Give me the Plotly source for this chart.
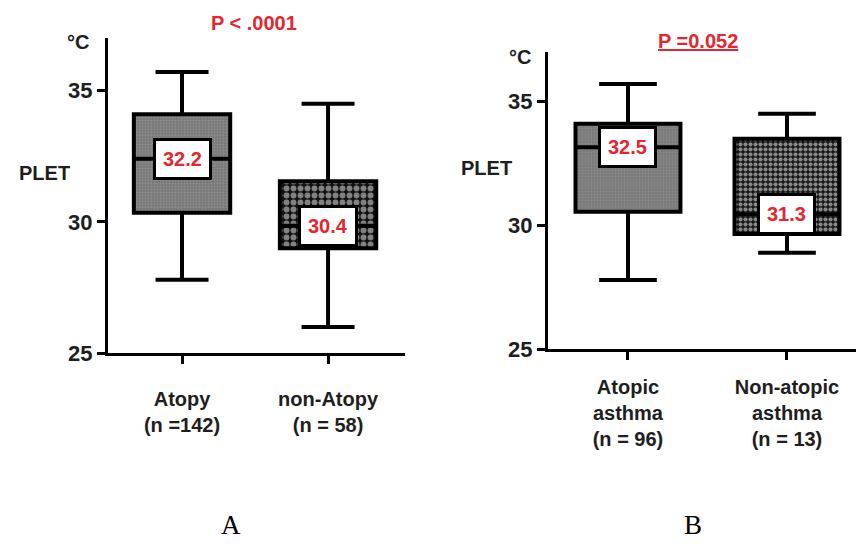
import plotly.graph_objects as go

# ---------------- data ----------------
cats_a = ["Atopy<br>(n =142)", "non-Atopy<br>(n = 58)"]
upper_a = [35.7, 34.5]
q3_a = [34.1, 31.55]
median_a = [32.4, 29.85]
q1_a = [30.35, 29.0]
lower_a = [27.8, 26.0]
labels_a = ["32.2", "30.4"]
p_a = "P < .0001"

cats_b = ["Atopic<br>asthma<br>(n = 96)", "Non-atopic<br>asthma<br>(n = 13)"]
upper_b = [35.7, 34.5]
q3_b = [34.1, 33.5]
median_b = [33.15, 30.45]
q1_b = [30.55, 29.65]
lower_b = [27.8, 28.9]
labels_b = ["32.5", "31.3"]
p_b = "<u>P =0.052</u>"

y_ticks = [25, 30, 35]
panel_letters = ["A", "B"]

# ---------------- styling ----------------
W, H = 856, 545
HE = 533.0  # effective vertical pixel scale observed when rendered
TXT = "#1e1e1e"
RED = "#e3262f"
SANS = "Liberation Sans, Arial, sans-serif"
patterns_a = [
    dict(shape=".", bgcolor="#787878", fgcolor="#a4a4a4", size=3, solidity=0.35),
    dict(shape=".", bgcolor="#111111", fgcolor="#f4f4f4", size=7, solidity=0.55),
]
patterns_b = [
    dict(shape=".", bgcolor="#7a7a7a", fgcolor="#9a9a9a", size=3, solidity=0.3),
    dict(shape=".", bgcolor="#151515", fgcolor="#ffffff", size=5, solidity=0.55),
]

fig = go.Figure()

def fy(py):
    return 1 - py / HE

def add_panel(cats, upper, q3, med, q1, lower, labels, xa, ya, width, patterns):
    for i in range(len(cats)):
        fig.add_trace(go.Bar(
            x=[cats[i]], y=[q3[i] - q1[i]], base=[q1[i]], width=width,
            marker=dict(color="#888888", pattern=patterns[i], line=dict(width=0)),
            xaxis=xa, yaxis=ya, hoverinfo="skip", showlegend=False,
        ))
    fig.add_trace(go.Box(
        x=cats, q1=q1, median=med, q3=q3, lowerfence=lower, upperfence=upper,
        fillcolor="rgba(0,0,0,0)", line=dict(color="black", width=4),
        width=width, whiskerwidth=0.55, boxpoints=False,
        xaxis=xa, yaxis=ya, showlegend=False,
    ))
    for i in range(len(cats)):
        fig.add_annotation(
            x=cats[i], y=med[i], xref=xa, yref=ya, text="<b>%s</b>" % labels[i],
            showarrow=False, font=dict(family=SANS, size=20, color=RED),
            bgcolor="white", bordercolor="black", borderwidth=3, borderpad=7,
        )

add_panel(cats_a, upper_a, q3_a, median_a, q1_a, lower_a, labels_a, "x", "y", 0.66, patterns_a)
add_panel(cats_b, upper_b, q3_b, median_b, q1_b, lower_b, labels_b, "x2", "y2", 0.66, patterns_b)

tickfont = dict(family=SANS, size=22, color=TXT, weight="bold")
catfont = dict(family=SANS, size=20, color=TXT, weight="bold")

def yax(domain, anchor):
    return dict(domain=domain, anchor=anchor, range=[25, 37], tickvals=y_ticks,
                ticks="outside", ticklen=8, tickwidth=3, tickcolor="black",
                showline=True, linewidth=3, linecolor="black", showgrid=False,
                zeroline=False, tickfont=tickfont)

def xax(domain, anchor, rng, standoff):
    return dict(domain=domain, anchor=anchor, range=rng, type="category",
                ticks="outside", ticklen=8, tickwidth=3, tickcolor="black",
                showline=True, linewidth=3, linecolor="black", showgrid=False,
                zeroline=False, tickfont=catfont, ticklabelstandoff=standoff)

fig.update_layout(
    width=W, height=H, margin=dict(l=0, r=0, t=0, b=0),
    paper_bgcolor="white", plot_bgcolor="white", showlegend=False,
    barmode="overlay", boxmode="overlay",
    xaxis=xax([108 / W, 405 / W], "y", [-0.507, 1.527], 18),
    yaxis=yax([fy(354), fy(38)], "x"),
    xaxis2=xax([548 / W, 1.0], "y2", [-0.503, 1.434], 10),
    yaxis2=yax([fy(350), fy(52)], "x2"),
)

def pa(text, px, py, size=19, color=TXT, family=SANS, bold=True):
    fig.add_annotation(x=px / W, y=fy(py), xref="paper", yref="paper",
                       text=("<b>%s</b>" % text) if bold else text, showarrow=False,
                       xanchor="center", yanchor="middle",
                       font=dict(family=family, size=size, color=color))

pa("°C", 78, 42, 20)
pa("PLET", 44, 173, 20)
pa(p_a, 254, 23, 20, RED)
pa("°C", 520, 57, 20)
pa("PLET", 486, 168, 20)
pa(p_b, 698, 41, 20, RED)
pa(panel_letters[0], 231, 526, 27, "black", "Liberation Serif, Times New Roman, serif", False)
pa(panel_letters[1], 693, 526, 27, "black", "Liberation Serif, Times New Roman, serif", False)

fig.write_html("out.html")
